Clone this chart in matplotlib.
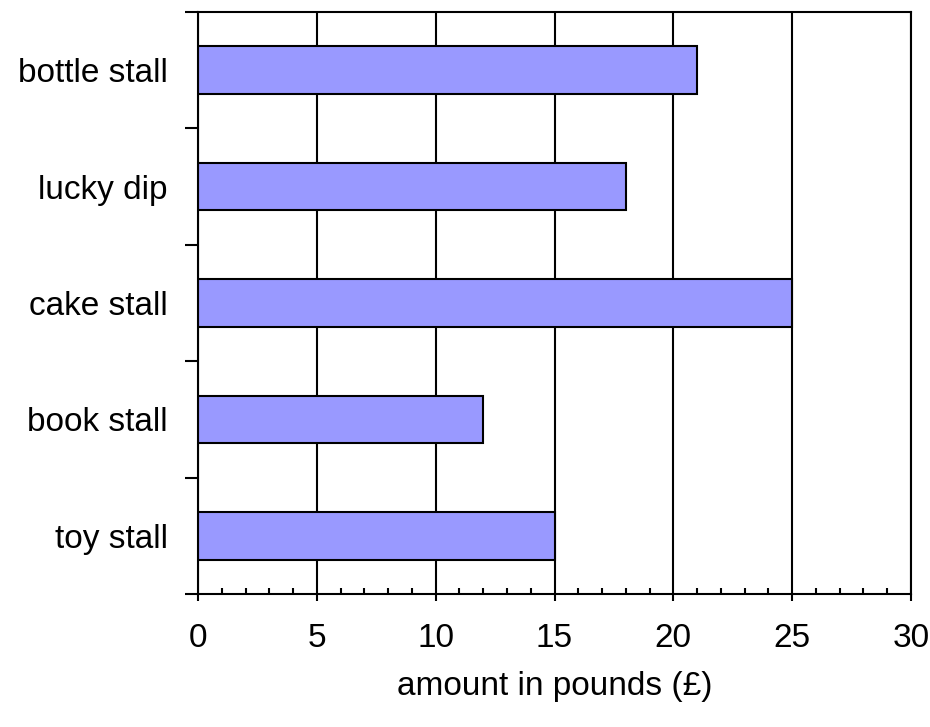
import matplotlib
matplotlib.use("Agg")
import matplotlib.pyplot as plt
import numpy as np
from matplotlib.ticker import MultipleLocator, FixedLocator

categories = ["bottle stall", "lucky dip", "cake stall", "book stall", "toy stall"]
amounts = [21, 18, 25, 12, 15]
x_ticks = [0, 5, 10, 15, 20, 25, 30]
x_label = "amount in pounds (£)"

plt.rcParams['font.family'] = ['Liberation Sans', 'DejaVu Sans']
FS = 24

fig = plt.figure(figsize=(9.3, 7.27), dpi=100)
ax = fig.add_axes([198/930, 1-594/727, (911-198)/930, (594-12)/727])

n = len(categories)
ypos = np.arange(n)[::-1]  # top category at highest y
ax.barh(ypos, amounts, height=0.41, color="#9999FF", edgecolor="black", linewidth=1.5, zorder=3)

ax.set_xlim(0, 30)
ax.set_ylim(-0.5, n - 0.5)

# x ticks
ax.xaxis.set_major_locator(FixedLocator(x_ticks))
ax.set_xticklabels([str(v) for v in x_ticks], fontsize=FS)
ax.xaxis.set_minor_locator(MultipleLocator(1))
ax.tick_params(axis='x', which='major', direction='out', length=5, width=1.5, pad=16)
ax.tick_params(axis='x', which='minor', direction='in', length=4.3, width=1.5)
ax.grid(axis='x', which='major', color='black', linewidth=1.5, zorder=1)

# y ticks: boundaries get tick marks, centers get labels
ax.yaxis.set_major_locator(FixedLocator(np.arange(-0.5, n, 1.0)))
ax.set_yticklabels([])
ax.yaxis.set_minor_locator(FixedLocator(ypos))
ax.set_yticklabels(categories, minor=True, fontsize=FS)
ax.tick_params(axis='y', which='major', direction='out', length=9.5, width=1.5)
ax.tick_params(axis='y', which='minor', length=0, pad=21.6)

for s in ax.spines.values():
    s.set_linewidth(1.5)
    s.set_zorder(4)

ax.set_xlabel(x_label, fontsize=FS, labelpad=12)

fig.savefig("out.png", dpi=100)
